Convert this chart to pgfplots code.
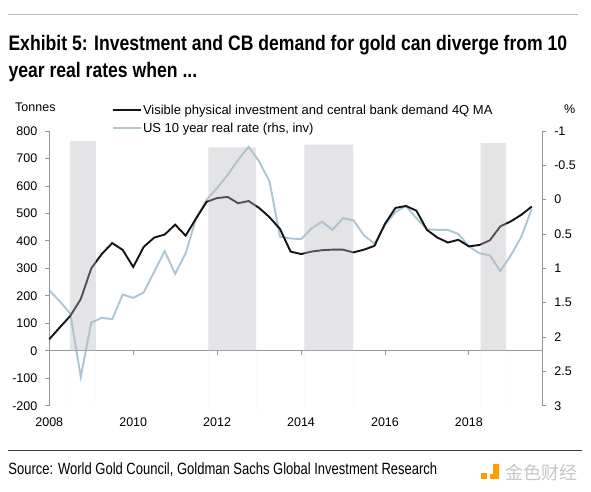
\documentclass[border=0pt]{standalone}
\usepackage{pgfplots}
\pgfplotsset{compat=1.18}
\usepackage{fontspec}
\setmainfont{Liberation Sans}
\newfontfamily\cjk{Noto Sans CJK SC}
\definecolor{rate}{RGB}{172,198,212}
\definecolor{axgray}{RGB}{150,150,150}
\definecolor{bandc}{RGB}{185,185,192}
\newlength{\tw}
\newlength{\sw}
\newcommand{\titlefont}{\fontsize{21}{25}\selectfont\bfseries}
\newcommand{\srcfont}{\fontsize{16.3}{19}\selectfont}
\newcommand{\tickfont}{\fontsize{12.5}{14}\selectfont}
\newcommand{\legfont}{\fontsize{13}{15}\selectfont}

\pgfplotstableread{
x y
2008.00 42
2008.25 85
2008.50 127
2008.75 188
2009.00 300
2009.25 352
2009.50 392
2009.75 367
2010.00 305
2010.25 378
2010.50 412
2010.75 423
2011.00 459
2011.25 419
2011.50 482
2011.75 542
2012.00 556
2012.25 560
2012.50 537
2012.75 545
2013.00 520
2013.25 486
2013.50 443
2013.75 361
2014.00 352
2014.25 361
2014.50 366
2014.75 368
2015.00 368
2015.25 358
2015.50 368
2015.75 382
2016.00 462
2016.25 520
2016.50 527
2016.75 510
2017.00 440
2017.25 412
2017.50 394
2017.75 404
2018.00 380
2018.25 385
2018.50 402
2018.75 453
2019.00 471
2019.25 495
2019.50 525
}\demand

\pgfplotstableread{
x y
2008.00 1.32
2008.25 1.48
2008.50 1.66
2008.75 2.58
2009.00 1.79
2009.25 1.72
2009.50 1.74
2009.75 1.38
2010.00 1.43
2010.25 1.35
2010.50 1.05
2010.75 0.75
2011.00 1.08
2011.25 0.78
2011.50 0.27
2011.75 0.00
2012.00 -0.17
2012.25 -0.36
2012.50 -0.58
2012.75 -0.77
2013.00 -0.56
2013.25 -0.26
2013.50 0.54
2013.75 0.565
2014.00 0.575
2014.25 0.42
2014.50 0.32
2014.75 0.44
2015.00 0.27
2015.25 0.30
2015.50 0.52
2015.75 0.64
2016.00 0.37
2016.25 0.18
2016.50 0.09
2016.75 0.27
2017.00 0.43
2017.25 0.44
2017.50 0.44
2017.75 0.50
2018.00 0.68
2018.25 0.78
2018.50 0.81
2018.75 1.04
2019.00 0.81
2019.25 0.54
2019.50 0.13
}\realrate

\begin{document}
\settowidth{\tw}{\titlefont Exhibit 5: Investment and CB demand for gold can diverge from 10}%
\settowidth{\sw}{\srcfont Source: World Gold Council, Goldman Sachs Global Investment Research}%
\pgfmathsetmacro{\sx}{558.7/\tw}%
\pgfmathsetmacro{\ssx}{428.7/\sw}%
\begin{tikzpicture}
\useasboundingbox (0pt,0pt) rectangle (591pt,492pt);
\fill[white] (0pt,0pt) rectangle (591pt,492pt);
% header
\draw[gray!55, line width=1.6pt] (8pt,477.6pt) -- (578pt,477.6pt);
\node[anchor=base west, inner sep=0pt] at (8.3pt,441pt) {\scalebox{\sx}[1]{\titlefont Exhibit 5: Investment and CB demand for gold can diverge from 10}};
\node[anchor=base west, inner sep=0pt] at (8.3pt,414.4pt) {\scalebox{\sx}[1]{\titlefont year real rates when ...}};
\node[anchor=west, inner sep=0pt, font=\tickfont] at (15pt,385pt) {Tonnes};
\node[anchor=west, inner sep=0pt, font=\tickfont] at (564pt,383pt) {\%};
% footer
\draw[black!75, line width=0.9pt] (8.3pt,41.3pt) -- (582pt,41.3pt);
\node[anchor=base west, inner sep=0pt] at (8.3pt,17pt) {\scalebox{\ssx}[1]{\srcfont Source: World Gold Council, Goldman Sachs Global Investment Research}};
\fill[orange!75!yellow] (481pt,13pt) rectangle (487pt,19pt);
\fill[orange!75!yellow] (490pt,13pt) -- (499pt,13pt) -- (499pt,28pt) -- (493pt,28pt) -- (493pt,18pt) -- (490pt,18pt) -- cycle;
\node[anchor=west, inner sep=0pt, text=black!22] at (505pt,19pt) {\cjk\fontsize{18}{20}\selectfont 金色财经};

% right axis (real rate, inverted)
\begin{axis}[
  at={(49.3pt,86.3pt)}, anchor=south west,
  scale only axis, width=493pt, height=274.7pt,
  xmin=2008, xmax=2019.75,
  ymin=-1, ymax=3, y dir=reverse,
  axis x line=none,
  axis y line*=right,
  y axis line style={axgray, line width=0.8pt},
  ytick={-1,-0.5,0,0.5,1,1.5,2,2.5,3},
  yticklabels={-1,-0.5,0,0.5,1,1.5,2,2.5,3},
  tick align=outside,
  major tick length=4pt,
  ytick style={axgray, line width=0.8pt},
  yticklabel style={font=\tickfont, xshift=4.5pt},
  clip=false,
]
\addplot[rate, line width=1.9pt] table {\realrate};
\end{axis}

% left axis (demand)
\begin{axis}[
  at={(49.3pt,86.3pt)}, anchor=south west,
  scale only axis, width=493pt, height=274.7pt,
  xmin=2008, xmax=2019.75,
  ymin=-200, ymax=800,
  axis y line*=left,
  axis x line*=bottom,
  x axis line style={draw=none},
  y axis line style={axgray, line width=0.8pt},
  xtick={2008,2010,2012,2014,2016,2018},
  xticklabels={2008,2010,2012,2014,2016,2018},
  xtick style={draw=none},
  ytick={-200,-100,0,100,200,300,400,500,600,700,800},
  yticklabels={-200,-100,0,100,200,300,400,500,600,700,800},
  tick align=outside,
  major tick length=4pt,
  ytick style={axgray, line width=0.8pt},
  yticklabel style={font=\tickfont, xshift=-4.5pt},
  xticklabel style={font=\tickfont, yshift=-5pt},
  clip=false,
  legend style={at={(0.126,1.101)}, anchor=north west, draw=none, fill=none,
    font=\legfont, row sep=4pt, inner sep=0pt,
    nodes={inner sep=1.5pt}, cells={anchor=west}},
  legend image code/.code={\draw[#1] (0pt,0pt) -- (28pt,0pt);},
]
\addlegendimage{black!92, line width=1.9pt}
\addlegendentry{Visible physical investment and central bank demand 4Q MA}
\addlegendimage{rate, line width=1.9pt}
\addlegendentry{US 10 year real rate (rhs, inv)}
\draw[axgray, line width=0.8pt] (axis cs:2008,0) -- (axis cs:2019.75,0);
\pgfplotsinvokeforeach{2010,2012,2014,2016,2018}{
  \draw[axgray, line width=0.8pt] (axis cs:#1,0) -- ++(0pt,-4pt);
}
\addplot[black!92, line width=1.9pt] table {\demand};
% shaded periods
\addplot[draw=none, fill=bandc, fill opacity=0.38] coordinates {(2008.49,-202) (2008.49,764) (2009.11,764) (2009.11,-202)} \closedcycle;
\addplot[draw=none, fill=bandc, fill opacity=0.38] coordinates {(2011.79,-226) (2011.79,740) (2012.93,740) (2012.93,-226)} \closedcycle;
\addplot[draw=none, fill=bandc, fill opacity=0.38] coordinates {(2014.08,-215) (2014.08,750) (2015.24,750) (2015.24,-215)} \closedcycle;
\addplot[draw=none, fill=bandc, fill opacity=0.38] coordinates {(2018.28,-207) (2018.28,756) (2018.89,756) (2018.89,-207)} \closedcycle;
\end{axis}
\end{tikzpicture}
\end{document}
